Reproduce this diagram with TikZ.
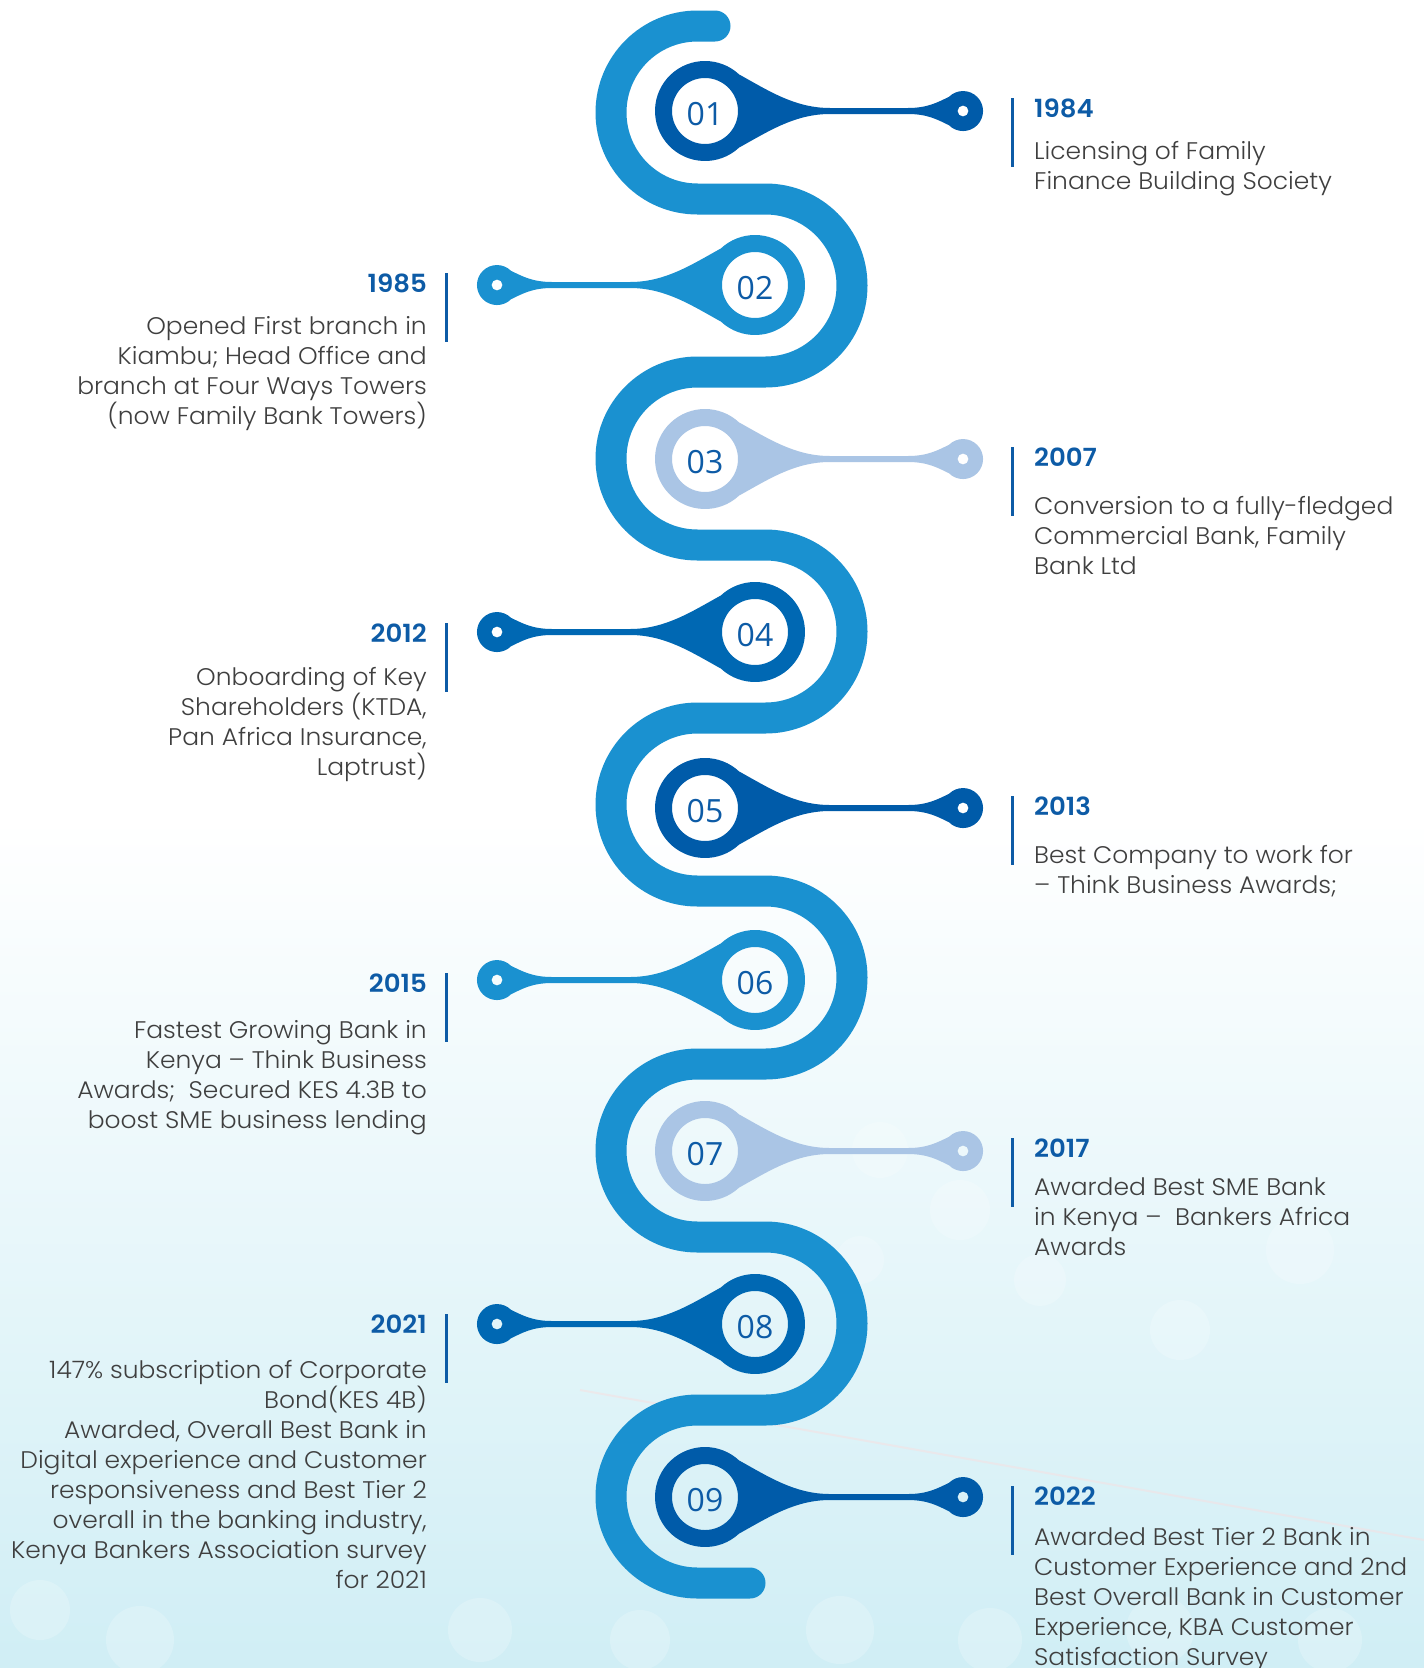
\documentclass[tikz,border=0pt]{standalone}
\usepackage{fontspec}
\setmainfont{Poppins}[UprightFont={* Light},BoldFont={* SemiBold},FakeStretch=1.04]
\newfontfamily\numfont{Open Sans}
\usepackage{tikz}

\definecolor{snakeblue}{HTML}{1A91D0}
\definecolor{darkpin}{HTML}{005BA9}
\definecolor{midpin}{HTML}{0068B3}
\definecolor{lightpin}{HTML}{AAC5E5}
\definecolor{yearblue}{HTML}{0D5BA6}
\definecolor{bodygrey}{HTML}{3F3F3F}
\definecolor{bgcyan}{HTML}{D0EEF5}

\begin{document}
\begin{tikzpicture}[x=1pt,y=-1pt,
  snake/.style={line width=31pt,line cap=round,draw=snakeblue},
  year/.style={font=\fontsize{25}{30}\selectfont\bfseries,text=yearblue,inner sep=0pt},
  blurb/.style={font=\fontsize{24}{30}\selectfont,text=bodygrey,inner sep=0pt},
  bar/.style={line width=3pt,draw=yearblue},
  badgenum/.style={font=\numfont\fontsize{32}{32}\selectfont,text=yearblue,inner sep=0pt}]
\useasboundingbox (0,0) rectangle (1424,1668);
% background
\fill[white] (0,0) rectangle (1424,1668);
\shade[top color=white,bottom color=bgcyan] (0,820) rectangle (1424,1668);
\foreach \bx/\by/\br in {880/1150/28,960/1210/30,1040/1280/26,860/1260/24,1180/1330/30,1300/1250/34,
  40/1610/30,140/1640/34,480/1630/32,640/1640/30,840/1630/34,990/1640/32,1160/1630/34,1330/1640/32}
  \fill[white,opacity=0.2] (\bx,\by) circle (\br);
\draw[pink!60,line width=2pt,opacity=0.4] (580,1390) -- (1424,1540);

% the winding road
\draw[snake] (715,26) -- (697.5,26)
  \foreach \k in {1,...,4}{ arc (270:90:86.5) -- ++(68,0) arc (-90:90:86.5) -- ++(-68,0) }
  arc (270:90:86.5) -- (750,1583);

% pins
\foreach \n/\cx/\cy/\dir/\col in {01/705/111/1/darkpin,02/755/285/-1/snakeblue,03/705/459/1/lightpin,
  04/755/632/-1/midpin,05/705/808/1/darkpin,06/755/980/-1/snakeblue,07/705/1151/1/lightpin,
  08/755/1324/-1/midpin,09/705/1497/1/darkpin}
{
  \begin{scope}[shift={(\cx,\cy)},xscale=\dir]
    \fill[\col,even odd rule] (-47:50) .. controls (64,-20) and (90,-3) .. (125,-3) -- (203,-3)
      .. controls (223,-3) and (233,-9) .. (243.9,-14.1) arc (225:495:20)
      .. controls (233,9) and (223,3) .. (203,3) -- (125,3) .. controls (90,3) and (64,20) .. (47:50)
      arc (47:313:50) -- cycle
      (0,0) circle (33) (258,0) circle (5.5);
  \end{scope}
  \node[badgenum] (num\n) at (\cx,\cy+3) {\n};
}

% right hand milestones (22pt strut fixes the first baseline)
\foreach \yr/\yb/\tb/\txt in {1984/117/159/{Licensing of Family\\Finance Building Society},
  2007/466/514/{Conversion to a fully-fledged\\Commercial Bank, Family\\Bank Ltd},
  2013/815/863/{Best Company to work for\\– Think Business Awards;},
  2017/1157/1195/{Awarded Best SME Bank\\in Kenya –\ \ Bankers Africa\\Awards},
  2022/1505/1545/{Awarded Best Tier 2 Bank in\\Customer Experience and 2nd\\Best Overall Bank in Customer\\Experience, KBA Customer\\Satisfaction Survey}}
{
  \node[year,anchor=base west] (year\yr) at (1034,\yb) {\yr};
  \node[blurb,anchor=north west,align=left] (text\yr) at (1034,\tb-22) {\rule{0pt}{22pt}\txt};
  \draw[bar] (1012,\yb-19) -- ++(0,69);
}

% left hand milestones
\foreach \yr/\yb/\tb/\txt in {1985/292/334/{Opened First branch in\\Kiambu; Head Office and\\branch at Four Ways Towers\\(now Family Bank Towers)},
  2012/642/685/{Onboarding of Key\\Shareholders (KTDA,\\Pan Africa Insurance,\\Laptrust)},
  2015/992/1038/{Fastest Growing Bank in\\Kenya – Think Business\\Awards;\ \ Secured KES 4.3B to\\boost SME business lending},
  2021/1333/1378/{147\% subscription of Corporate\\Bond(KES 4B)\\Awarded, Overall Best Bank in\\Digital experience and Customer\\responsiveness and Best Tier 2\\overall in the banking industry,\\Kenya Bankers Association survey\\for 2021}}
{
  \node[year,anchor=base east] (year\yr) at (427,\yb) {\yr};
  \node[blurb,anchor=north east,align=right] (text\yr) at (427,\tb-22) {\rule{0pt}{22pt}\txt};
  \draw[bar] (446,\yb-19) -- ++(0,69);
}
\end{tikzpicture}
\end{document}
